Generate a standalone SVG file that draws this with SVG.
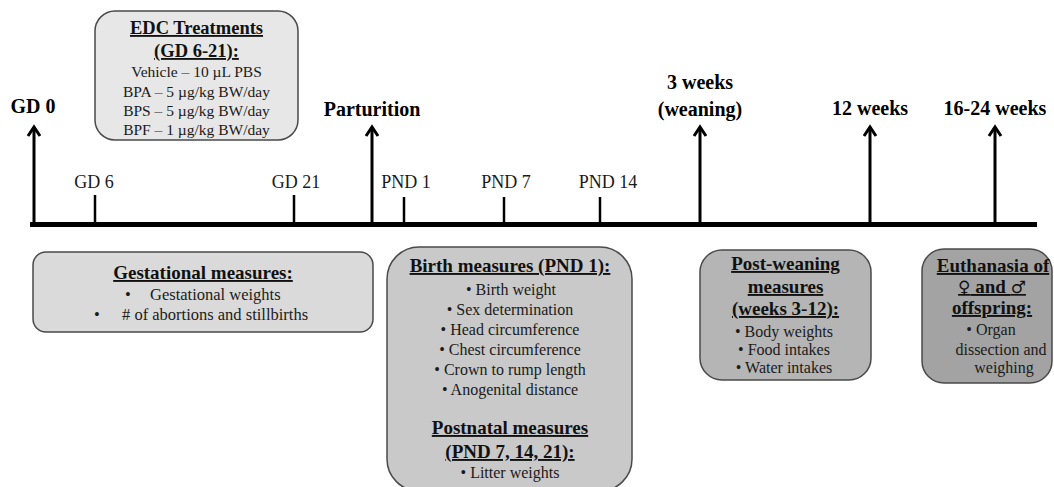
<svg xmlns="http://www.w3.org/2000/svg" width="1054" height="487" viewBox="0 0 1054 487">
<defs>
<style>
text{font-family:"Liberation Serif","Times New Roman",serif;fill:#1a1a1a}
.b{font-weight:bold;fill:#000}
.t{font-weight:bold;font-size:19px;text-decoration:underline;fill:#111}
.lb{font-weight:bold;font-size:20px}
.lr{font-size:18px}
.it{font-size:16px}
.c{text-anchor:middle}
.box{stroke:#4a4a4a;stroke-width:1.5}
.ax{stroke:#000;fill:none}
</style>
<marker id="ah" viewBox="-12 -10 16 20" markerWidth="16" markerHeight="20" refX="0" refY="0" orient="auto" markerUnits="userSpaceOnUse">
<path d="M -9 -6 L 0 0 L -9 6" fill="none" stroke="#000" stroke-width="3"/>
</marker>
</defs>
<rect width="1054" height="487" fill="#fff"/>

<g id="connectors">
<line class="ax" x1="30" y1="224.5" x2="1037" y2="224.5" stroke-width="5"/>
<line class="ax" x1="34" y1="224" x2="34" y2="127" stroke-width="3" marker-end="url(#ah)"/>
<line class="ax" x1="372" y1="224" x2="372" y2="127" stroke-width="3" marker-end="url(#ah)"/>
<line class="ax" x1="700" y1="224" x2="700" y2="127" stroke-width="3" marker-end="url(#ah)"/>
<line class="ax" x1="870" y1="224" x2="870" y2="127" stroke-width="3" marker-end="url(#ah)"/>
<line class="ax" x1="995" y1="224" x2="995" y2="127" stroke-width="3" marker-end="url(#ah)"/>
<line class="ax" x1="95" y1="224" x2="95" y2="195" stroke-width="2.5"/>
<line class="ax" x1="294" y1="224" x2="294" y2="195" stroke-width="2.5"/>
<line class="ax" x1="404" y1="224" x2="404" y2="197" stroke-width="2.5"/>
<line class="ax" x1="504" y1="224" x2="504" y2="197" stroke-width="2.5"/>
<line class="ax" x1="600" y1="224" x2="600" y2="197" stroke-width="2.5"/>
</g>

<g id="timeline-labels">
<text class="lb b c" x="33" y="113">GD 0</text>
<text class="lb b c" x="372" y="116">Parturition</text>
<text class="lb b c" x="700" y="89">3 weeks</text>
<text class="lb b c" x="700" y="116">(weaning)</text>
<text class="lb b c" x="870" y="115">12 weeks</text>
<text class="lb b c" x="995" y="115">16-24 weeks</text>
<text class="lr c" x="94" y="188">GD 6</text>
<text class="lr c" x="296" y="188">GD 21</text>
<text class="lr c" x="406" y="188">PND 1</text>
<text class="lr c" x="506" y="188">PND 7</text>
<text class="lr c" x="608" y="188">PND 14</text>
</g>

<g id="edc-treatments">
<rect class="box" x="95" y="11" width="203" height="129" rx="20" fill="#e7e7e7"/>
<text class="t c" x="196.5" y="34" style="font-size:18.5px">EDC Treatments</text>
<text class="t c" x="196.5" y="57" style="font-size:18.5px">(GD 6-21):</text>
<text class="c" x="196.5" y="77" font-size="15.5">Vehicle – 10 µL  PBS</text>
<text class="c" x="196.5" y="97" font-size="15.5">BPA – 5 µg/kg  BW/day</text>
<text class="c" x="196.5" y="116" font-size="15.5">BPS – 5 µg/kg  BW/day</text>
<text class="c" x="196.5" y="135" font-size="15.5">BPF – 1 µg/kg  BW/day</text>
</g>

<g id="gestational-measures">
<rect class="box" x="33" y="252" width="340" height="80" rx="13" fill="#dadada"/>
<text class="t c" x="203" y="279">Gestational  measures:</text>
<text x="125" y="300" font-size="16.5">•</text>
<text x="150" y="300" font-size="16.5">Gestational  weights</text>
<text x="94" y="320" font-size="16.5">•</text>
<text x="122" y="320" font-size="16.5"># of abortions and stillbirths</text>
</g>

<g id="birth-measures">
<rect class="box" x="387" y="247" width="245" height="244" rx="32" fill="#c9c9c9"/>
<text class="t c" x="510" y="272">Birth  measures (PND 1):</text>
<text class="it c" x="511" y="295">•  Birth  weight</text>
<text class="it c" x="510" y="315">•  Sex determination</text>
<text class="it c" x="510" y="335">•  Head circumference</text>
<text class="it c" x="510" y="355">•  Chest circumference</text>
<text class="it c" x="510" y="375">•  Crown to rump length</text>
<text class="it c" x="510" y="395">•  Anogenital  distance</text>
<text class="t c" x="510" y="434">Postnatal measures</text>
<text class="t c" x="510" y="458">(PND 7, 14, 21):</text>
<text class="it c" x="510" y="478">•  Litter  weights</text>
</g>

<g id="post-weaning-measures">
<rect class="box" x="700" y="250" width="171" height="130" rx="22" fill="#b5b5b5"/>
<text class="t c" x="785.5" y="270">Post-weaning</text>
<text class="t c" x="785.5" y="293">measures</text>
<text class="t c" x="785.5" y="315">(weeks 3-12):</text>
<text class="it c" x="784" y="337">•  Body weights</text>
<text class="it c" x="784" y="355">•  Food intakes</text>
<text class="it c" x="784" y="373">•  Water intakes</text>
</g>

<g id="euthanasia">
<rect class="box" x="922" y="249" width="130" height="134" rx="22" fill="#a3a3a3"/>
<text class="t c" x="993" y="272">Euthanasia  of</text>
<text class="t c" x="992" y="293"><tspan style="font-family:'DejaVu Sans',sans-serif;font-size:17px">♀</tspan> and <tspan style="font-family:'DejaVu Sans',sans-serif;font-size:17px">♂</tspan></text>
<text class="t c" x="992" y="314">offspring:</text>
<text class="it c" x="991" y="335">•  Organ</text>
<text class="it c" x="1001" y="355">dissection and</text>
<text class="it c" x="1004" y="373">weighing</text>
</g>
</svg>
